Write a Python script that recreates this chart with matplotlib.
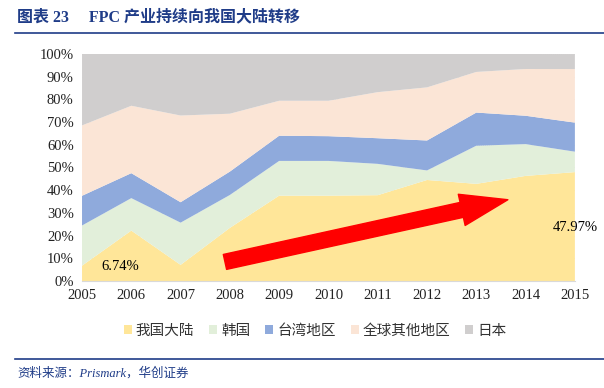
import numpy as np
import matplotlib
matplotlib.use("Agg")
import matplotlib.pyplot as plt
from matplotlib.patches import Patch
from matplotlib.lines import Line2D

years = np.arange(2005, 2016)
mainland = [6.74, 22.2, 7.1, 23.4, 37.6, 37.6, 37.8, 44.5, 42.8, 46.3, 47.97]
korea = [17.7, 14.3, 18.6, 14.5, 15.3, 15.3, 13.8, 4.2, 16.8, 14.0, 9.0]
taiwan = [13.1, 11.0, 9.0, 10.3, 11.1, 10.9, 11.3, 13.2, 14.6, 12.5, 12.8]
others = [31.0, 29.7, 38.2, 25.5, 15.4, 15.6, 20.3, 23.4, 17.9, 20.6, 23.6]
japan = [31.5, 22.8, 27.1, 26.3, 20.6, 20.6, 16.8, 14.7, 7.9, 6.6, 6.6]

names = ["我国大陆", "韩国", "台湾地区", "全球其他地区", "日本"]
colors = ["#FFE699", "#E2EFDA", "#8FAADC", "#FBE5D6", "#D0CECE"]

SERIF = ["Liberation Serif", "Noto Sans CJK SC"]
CJK = ["Noto Sans CJK SC", "DejaVu Sans"]
BLUE = "#1F3C88"

fig = plt.figure(figsize=(6.04, 3.88), dpi=100)
ax = fig.add_axes([0.1358, 0.2758, 0.816, 0.585])

ax.set_axisbelow(True)
ax.yaxis.grid(True, color="#D9D9D9", linewidth=0.7, linestyle=(0, (1, 1)))
ax.stackplot(years, mainland, korea, taiwan, others, japan,
             colors=colors, linewidth=0, zorder=2)

ax.set_xlim(2005, 2015)
ax.set_ylim(0, 100)
ax.set_xticks(years)
ax.set_xticklabels([str(y) for y in years], fontfamily=SERIF, fontsize=10.5)
ax.set_yticks(np.arange(0, 101, 10))
ax.set_yticklabels([f"{v}%" for v in range(0, 101, 10)], fontfamily=SERIF, fontsize=10.5)
ax.tick_params(length=0, pad=6, colors="#222222")
for s in ["top", "right", "left"]:
    ax.spines[s].set_visible(False)
ax.spines["bottom"].set_color("#D9D9D9")

# red trend arrow
ax.annotate("", xy=(2013.64, 35.8), xytext=(2007.9, 8.4),
            arrowprops=dict(arrowstyle="simple,head_length=3.4,head_width=2.3,tail_width=1.1",
                            mutation_scale=10, color="#FF0000", shrinkA=0, shrinkB=0),
            zorder=5)

ax.text(2005.77, 6.3, "6.74%", fontfamily=SERIF, fontsize=10.5, ha="center", va="center", zorder=6)
ax.text(2015.0, 23.6, "47.97%", fontfamily=SERIF, fontsize=10.5, ha="center", va="center", zorder=6)

handles = [Patch(facecolor=c, edgecolor="none") for c in colors]
leg = fig.legend(handles, names, loc="center", bbox_to_anchor=(0.522, 0.148), ncol=5,
                 frameon=False, handlelength=0.55, handleheight=0.55, handletextpad=0.3,
                 columnspacing=1.0, prop={"family": CJK, "size": 10.5})
for t in leg.get_texts():
    t.set_color("#333333")

# title and source
fig.text(0.028, 0.955, "图表 23     FPC 产业持续向我国大陆转移", fontfamily=SERIF,
         fontsize=11.5, fontweight="bold", color=BLUE, va="center", ha="left")
fig.add_artist(Line2D([0.025, 1.0], [0.914, 0.914], color=BLUE, linewidth=1.2))
fig.add_artist(Line2D([0.025, 1.0], [0.075, 0.075], color=BLUE, linewidth=1.2))
fig.text(0.028, 0.038, "资料来源：Prismark，华创证券", fontfamily=SERIF,
         fontsize=9, fontstyle="italic", color=BLUE, va="center", ha="left")

fig.savefig("out.png", dpi=100)
